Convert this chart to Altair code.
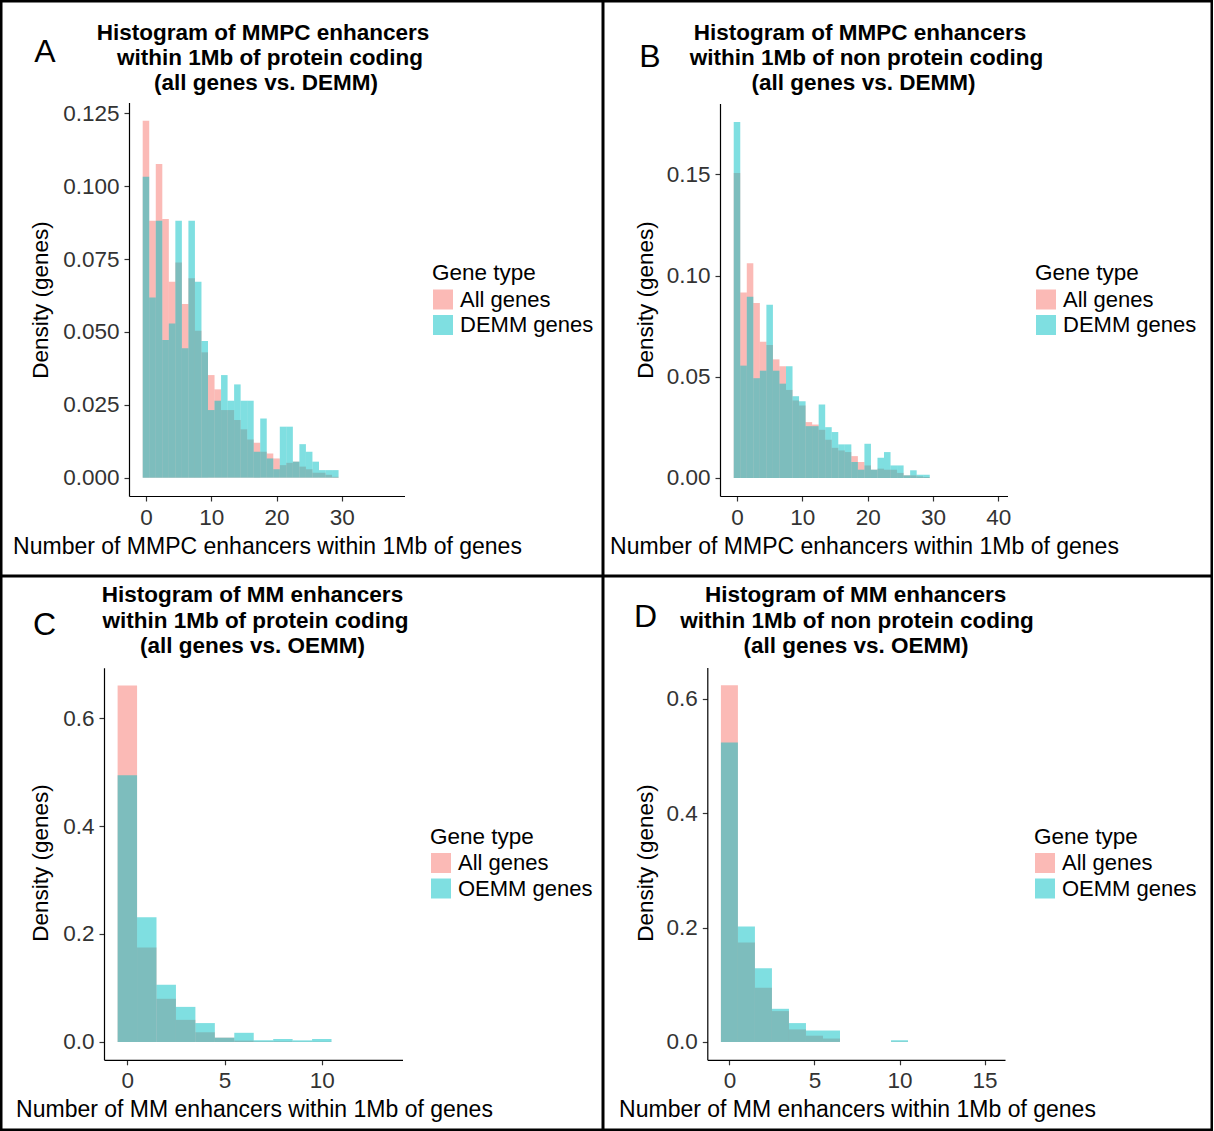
import altair as alt
import pandas as pd

FONT = "Liberation Sans"
W, H = 1214, 1131

# ---------------- data ----------------
bins_A = list(range(30))
all_A = [0.1224, 0.0881, 0.1076, 0.0887, 0.0672, 0.0738, 0.0596, 0.0684, 0.0504, 0.0430,
         0.0352, 0.0303, 0.0232, 0.0232, 0.0198, 0.0166, 0.0131, 0.0120, 0.0089, 0.0083,
         0.0066, 0.0043, 0.0051, 0.0055, 0.0038, 0.0029, 0.0017, 0.0017, 0.0010, 0.0003]
demm_A = [0.1032, 0.0618, 0.0881, 0.0472, 0.0529, 0.0881, 0.0444, 0.0881, 0.0672, 0.0469,
          0.0232, 0.0264, 0.0352, 0.0264, 0.0320, 0.0264, 0.0264, 0.0089, 0.0203, 0.0066,
          0.0029, 0.0175, 0.0175, 0.0055, 0.0115, 0.0089, 0.0055, 0.0026, 0.0026, 0.0026]

bins_B = list(range(30))
all_B = [0.1507, 0.0916, 0.1061, 0.0864, 0.0673, 0.0657, 0.0586, 0.0552, 0.0435, 0.0383,
         0.0358, 0.0276, 0.0264, 0.0238, 0.0189, 0.0149, 0.0136, 0.0128, 0.0108, 0.0079,
         0.0062, 0.0041, 0.0046, 0.0041, 0.0041, 0.0025, 0.0013, 0.0013, 0.0008, 0.0005]
demm_B = [0.1759, 0.0555, 0.0895, 0.0493, 0.0530, 0.0856, 0.0530, 0.0466, 0.0552, 0.0404,
          0.0379, 0.0256, 0.0256, 0.0363, 0.0251, 0.0227, 0.0166, 0.0166, 0.0079, 0.0041,
          0.0169, 0.0041, 0.0100, 0.0128, 0.0062, 0.0062, 0.0013, 0.0038, 0.0016, 0.0016]

bins_C = list(range(11))
all_C = [0.660, 0.175, 0.080, 0.041, 0.018, 0.008, 0.0025, 0.001, 0.001, 0.0005, 0.0005]
oemm_C = [0.494, 0.231, 0.106, 0.065, 0.035, 0.008, 0.017, 0.003, 0.0055, 0.003, 0.0055]

bins_D = list(range(11))
all_D = [0.624, 0.174, 0.095, 0.054, 0.022, 0.011, 0.006, 0.0, 0.0, 0.0, 0.0005]
oemm_D = [0.524, 0.202, 0.129, 0.058, 0.033, 0.020, 0.020, 0.0, 0.0, 0.0, 0.003]

titles_A = ["Histogram of MMPC enhancers", "within 1Mb of protein coding", "(all genes vs. DEMM)"]
titles_B = ["Histogram of MMPC enhancers", "within 1Mb of non protein coding", "(all genes vs. DEMM)"]
titles_C = ["Histogram of MM enhancers", "within 1Mb of protein coding", "(all genes vs. OEMM)"]
titles_D = ["Histogram of MM enhancers", "within 1Mb of non protein coding", "(all genes vs. OEMM)"]

xticks_A = [0, 10, 20, 30]
xticks_B = [0, 10, 20, 30, 40]
xticks_C = [0, 5, 10]
xticks_D = [0, 5, 10, 15]
yticks_A = [0, 0.025, 0.05, 0.075, 0.1, 0.125]
yticks_B = [0, 0.05, 0.1, 0.15]
yticks_CD = [0, 0.2, 0.4, 0.6]

xtitle_MMPC = "Number of MMPC enhancers within 1Mb of genes"
xtitle_MM = "Number of MM enhancers within 1Mb of genes"
ytitle = "Density (genes)"
legend_title = "Gene type"
groups_DEMM = ["All genes", "DEMM genes"]
groups_OEMM = ["All genes", "OEMM genes"]
COLORS = ["#F8766D", "#00BFC4"]

# ---------------- layout (page pixel geometry) ----------------
SPEC = {
    "A": dict(origin=(129, 102.5), size=(275.5, 393.5),
              xdom=[-2.6, 39.6], ydom=[-0.00628, 0.1287], title_xy=[(263, 33), (270, 58), (266, 83)],
              letter="A", letter_xy=(45, 52), legend_xy=(432, 262), ytitle_xy=(40.5, 300),
              xtitle_xy=(267.5, 547), yfmt=".3f"),
    "B": dict(origin=(720, 103.5), size=(287.5, 392.5),
              xdom=[-2.6, 41.4], ydom=[-0.0089, 0.1850], title_xy=[(860, 33), (866.5, 58), (863.5, 83)],
              letter="B", letter_xy=(650, 57), legend_xy=(1035, 262), ytitle_xy=(645.5, 300),
              xtitle_xy=(864.5, 547), yfmt=".2f"),
    "C": dict(origin=(104, 667.8), size=(298.5, 392),
              xdom=[-1.2, 14.15], ydom=[-0.033, 0.693], title_xy=[(252.5, 595), (255.5, 620.5), (252.5, 645.5)],
              letter="C", letter_xy=(44.5, 625), legend_xy=(430, 825.5), ytitle_xy=(40.5, 863),
              xtitle_xy=(254.5, 1110), yfmt=".1f"),
    "D": dict(origin=(707.3, 667.4), size=(297.7, 392.4),
              xdom=[-1.3, 16.2], ydom=[-0.0312, 0.6552], title_xy=[(855.6, 595), (857, 620.5), (856, 645.5)],
              letter="D", letter_xy=(645.5, 617), legend_xy=(1034, 825.5), ytitle_xy=(645.5, 863),
              xtitle_xy=(857.5, 1110), yfmt=".1f"),
}

# frame lines of the 2x2 figure (x1, y1, x2, y2) in page pixels
FRAME = [
    (0, 0, 1213, 2.5), (0, 1128.5, 1213, 1131),        # outer top / bottom
    (0, 0, 2.5, 1131), (1210.5, 0, 1213, 1131),        # outer left / right
    (601.5, 0, 604.5, 1131), (0, 574.5, 1213, 577.5),  # dividers
]

ONE = pd.DataFrame({"k": [0]})

AXIS_STYLE = dict(grid=False, domainColor="black", domainWidth=1.2, tickColor="#333333", tickWidth=1.2,
                  tickSize=5, labelFont=FONT, labelFontSize=22.5, labelColor="#333333", labelPadding=5,
                  labelFlush=False, labelOverlap=False, title=None)


def txt(x, y, text, size, weight="normal", angle=0):
    kw = dict(font=FONT, fontSize=size, fontWeight=weight, align="center", baseline="middle", color="black")
    if angle:
        kw["angle"] = angle
    return alt.Chart(ONE).mark_text(**kw).encode(x=alt.value(x), y=alt.value(y), text=alt.value(text))


def make_panel(key, bins, all_vals, other_vals, groups, titles, xtitle, xticks, yticks):
    s = SPEC[key]
    ox, oy = s["origin"]
    w, h = s["size"]

    rows = []
    for k, vals in enumerate([all_vals, other_vals]):
        for b, v in zip(bins, vals):
            rows.append({"lo": b - 0.5, "hi": b + 0.5, "density": v, "group": groups[k], "k": k})
    df = pd.DataFrame(rows)

    bars = alt.Chart(df).mark_rect(opacity=0.5).encode(
        x=alt.X("lo:Q",
                scale=alt.Scale(domain=s["xdom"], range=[ox, ox + w], nice=False, zero=False),
                axis=alt.Axis(orient="bottom", offset=(oy + h) - H, values=xticks, format="d", **AXIS_STYLE)),
        x2="hi:Q",
        y=alt.Y("density:Q", stack=None,
                scale=alt.Scale(domain=s["ydom"], range=[oy + h, oy], nice=False, zero=False),
                axis=alt.Axis(orient="left", offset=-ox, values=yticks, format=s["yfmt"], **AXIS_STYLE)),
        y2=alt.datum(0),
        color=alt.Color("group:N", scale=alt.Scale(domain=groups, range=COLORS),
                        legend=alt.Legend(title=legend_title, orient="none",
                                          legendX=s["legend_xy"][0], legendY=s["legend_xy"][1],
                                          direction="vertical", symbolType="square", symbolSize=400,
                                          symbolOpacity=0.5, symbolStrokeWidth=0,
                                          labelFont=FONT, labelFontSize=22, labelColor="black",
                                          titleFont=FONT, titleFontSize=22.5, titleFontWeight="normal",
                                          titleColor="black", titlePadding=4, rowPadding=3.5,
                                          labelOffset=6, padding=0)),
        order=alt.Order("k:Q"),
    )

    marks = [txt(tx, ty, line, 22.5, "bold") for (tx, ty), line in zip(s["title_xy"], titles)]
    marks.append(txt(s["letter_xy"][0], s["letter_xy"][1], s["letter"], 32))
    marks.append(txt(s["ytitle_xy"][0], s["ytitle_xy"][1], ytitle, 22.5, angle=270))
    marks.append(txt(s["xtitle_xy"][0], s["xtitle_xy"][1], xtitle, 23))

    return alt.layer(bars, *marks)


pA = make_panel("A", bins_A, all_A, demm_A, groups_DEMM, titles_A, xtitle_MMPC, xticks_A, yticks_A)
pB = make_panel("B", bins_B, all_B, demm_B, groups_DEMM, titles_B, xtitle_MMPC, xticks_B, yticks_B)
pC = make_panel("C", bins_C, all_C, oemm_C, groups_OEMM, titles_C, xtitle_MM, xticks_C, yticks_CD)
pD = make_panel("D", bins_D, all_D, oemm_D, groups_OEMM, titles_D, xtitle_MM, xticks_D, yticks_CD)

frame = [
    alt.Chart(ONE).mark_rect(color="black").encode(
        x=alt.value(a), x2=alt.value(c), y=alt.value(b), y2=alt.value(d))
    for (a, b, c, d) in FRAME
]

chart = alt.layer(pA, pB, pC, pD, *frame).resolve_scale(
    x="independent", y="independent", color="independent"
).properties(
    width=W, height=H, padding=0, background="white",
    autosize=alt.AutoSizeParams(type="none"),
).configure(font=FONT).configure_view(stroke="transparent", strokeWidth=0)

chart.save("out.html", embed_options={"renderer": "svg", "actions": False})
